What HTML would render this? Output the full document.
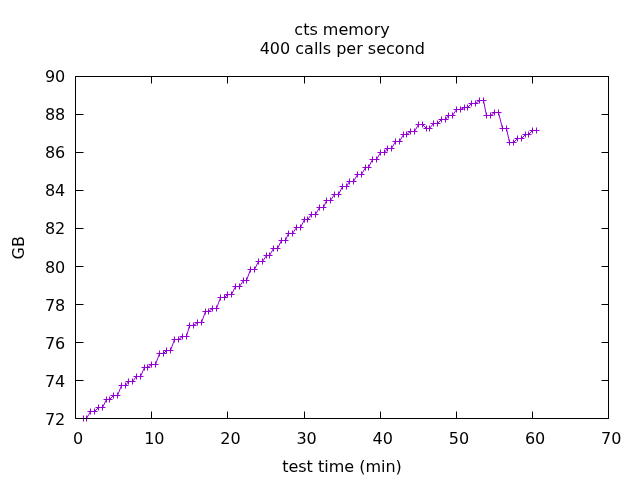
<!DOCTYPE html>
<html><head><meta charset="utf-8"><style>
html,body{margin:0;padding:0;background:#fff;width:640px;height:480px;overflow:hidden}
svg{display:block;will-change:transform}
</style></head><body>
<svg width="640" height="480" viewBox="0 0 640 480">
<rect x="0" y="0" width="640" height="480" fill="#fff"/>
<path d="M75.5,418.50h8M608.5,418.50h-7M75.5,380.50h8M608.5,380.50h-7M75.5,342.50h8M608.5,342.50h-7M75.5,304.50h8M608.5,304.50h-7M75.5,266.50h8M608.5,266.50h-7M75.5,228.50h8M608.5,228.50h-7M75.5,190.50h8M608.5,190.50h-7M75.5,152.50h8M608.5,152.50h-7M75.5,114.50h8M608.5,114.50h-7M75.5,76.50h8M608.5,76.50h-7M75.50,418.5v-7M75.50,76.5v7M151.50,418.5v-7M151.50,76.5v7M227.50,418.5v-7M227.50,76.5v7M304.50,418.5v-7M304.50,76.5v7M380.50,418.5v-7M380.50,76.5v7M456.50,418.5v-7M456.50,76.5v7M532.50,418.5v-7M532.50,76.5v7M608.50,418.5v-7M608.50,76.5v7" stroke="#000" stroke-width="1" fill="none"/>
<g font-family="DejaVu Sans, sans-serif" font-size="16" fill="#000"><text x="65.3" y="82" text-anchor="end">90</text><text x="65.3" y="120" text-anchor="end">88</text><text x="65.3" y="158" text-anchor="end">86</text><text x="65.3" y="196" text-anchor="end">84</text><text x="65.3" y="234" text-anchor="end">82</text><text x="65.3" y="273" text-anchor="end">80</text><text x="65.3" y="311" text-anchor="end">78</text><text x="65.3" y="349" text-anchor="end">76</text><text x="65.3" y="387" text-anchor="end">74</text><text x="65.3" y="425" text-anchor="end">72</text><text x="78.20" y="444" text-anchor="middle">0</text><text x="154.34" y="444" text-anchor="middle">10</text><text x="230.49" y="444" text-anchor="middle">20</text><text x="306.63" y="444" text-anchor="middle">30</text><text x="382.77" y="444" text-anchor="middle">40</text><text x="458.91" y="444" text-anchor="middle">50</text><text x="535.06" y="444" text-anchor="middle">60</text><text x="611.20" y="444" text-anchor="middle">70</text><text x="342" y="35" text-anchor="middle">cts memory</text><text x="342.3" y="54" text-anchor="middle">400 calls per second</text><text x="342" y="472" text-anchor="middle">test time (min)</text><text transform="translate(24.2,247.75) rotate(-90)" text-anchor="middle">GB</text></g>
<polyline points="83.50,418.50 86.50,418.50 90.50,411.50 94.50,411.50 98.50,407.50 102.50,407.50 106.50,399.50 109.50,399.50 113.50,395.50 117.50,395.50 121.50,385.50 125.50,385.50 128.50,381.50 132.50,381.50 136.50,376.50 140.50,376.50 144.50,367.50 147.50,367.50 151.50,364.50 155.50,364.50 159.50,353.50 163.50,353.50 166.50,350.50 170.50,350.50 174.50,339.50 178.50,339.50 182.50,336.50 186.50,336.50 189.50,325.50 193.50,325.50 197.50,322.50 201.50,322.50 205.50,311.50 208.50,311.50 212.50,308.50 216.50,308.50 220.50,297.50 224.50,297.50 227.50,294.50 231.50,294.50 235.50,286.50 239.50,286.50 243.50,280.50 246.50,280.50 250.50,269.50 254.50,269.50 258.50,261.50 262.50,261.50 266.50,255.50 269.50,255.50 273.50,248.50 277.50,248.50 281.50,240.50 285.50,240.50 288.50,233.50 292.50,233.50 296.50,227.50 300.50,227.50 304.50,219.50 307.50,219.50 311.50,214.50 315.50,214.50 319.50,207.50 323.50,207.50 326.50,200.50 330.50,200.50 334.50,194.50 338.50,194.50 342.50,186.50 346.50,186.50 349.50,181.50 353.50,181.50 357.50,174.50 361.50,174.50 365.50,167.50 368.50,167.50 372.50,159.50 376.50,159.50 380.50,152.50 384.50,152.50 387.50,148.50 391.50,148.50 395.50,141.50 399.50,141.50 403.50,134.50 406.50,134.50 410.50,131.50 414.50,131.50 418.50,124.50 422.50,124.50 426.50,128.50 429.50,128.50 433.50,123.50 437.50,123.50 441.50,119.50 445.50,119.50 448.50,115.50 452.50,115.50 456.50,109.50 460.50,109.50 464.50,107.50 467.50,107.50 471.50,103.50 475.50,103.50 479.50,100.50 483.50,100.50 486.50,115.50 490.50,115.50 494.50,112.50 498.50,112.50 502.50,128.50 506.50,128.50 509.50,142.50 513.50,142.50 517.50,138.50 521.50,138.50 525.50,134.50 528.50,134.50 532.50,130.50 536.50,130.50" fill="none" stroke="#9400d3" stroke-width="1"/>
<path d="M80.50,418.50h6M83.50,415.50v6M83.50,418.50h6M86.50,415.50v6M87.50,411.50h6M90.50,408.50v6M91.50,411.50h6M94.50,408.50v6M95.50,407.50h6M98.50,404.50v6M99.50,407.50h6M102.50,404.50v6M103.50,399.50h6M106.50,396.50v6M106.50,399.50h6M109.50,396.50v6M110.50,395.50h6M113.50,392.50v6M114.50,395.50h6M117.50,392.50v6M118.50,385.50h6M121.50,382.50v6M122.50,385.50h6M125.50,382.50v6M125.50,381.50h6M128.50,378.50v6M129.50,381.50h6M132.50,378.50v6M133.50,376.50h6M136.50,373.50v6M137.50,376.50h6M140.50,373.50v6M141.50,367.50h6M144.50,364.50v6M144.50,367.50h6M147.50,364.50v6M148.50,364.50h6M151.50,361.50v6M152.50,364.50h6M155.50,361.50v6M156.50,353.50h6M159.50,350.50v6M160.50,353.50h6M163.50,350.50v6M163.50,350.50h6M166.50,347.50v6M167.50,350.50h6M170.50,347.50v6M171.50,339.50h6M174.50,336.50v6M175.50,339.50h6M178.50,336.50v6M179.50,336.50h6M182.50,333.50v6M183.50,336.50h6M186.50,333.50v6M186.50,325.50h6M189.50,322.50v6M190.50,325.50h6M193.50,322.50v6M194.50,322.50h6M197.50,319.50v6M198.50,322.50h6M201.50,319.50v6M202.50,311.50h6M205.50,308.50v6M205.50,311.50h6M208.50,308.50v6M209.50,308.50h6M212.50,305.50v6M213.50,308.50h6M216.50,305.50v6M217.50,297.50h6M220.50,294.50v6M221.50,297.50h6M224.50,294.50v6M224.50,294.50h6M227.50,291.50v6M228.50,294.50h6M231.50,291.50v6M232.50,286.50h6M235.50,283.50v6M236.50,286.50h6M239.50,283.50v6M240.50,280.50h6M243.50,277.50v6M243.50,280.50h6M246.50,277.50v6M247.50,269.50h6M250.50,266.50v6M251.50,269.50h6M254.50,266.50v6M255.50,261.50h6M258.50,258.50v6M259.50,261.50h6M262.50,258.50v6M263.50,255.50h6M266.50,252.50v6M266.50,255.50h6M269.50,252.50v6M270.50,248.50h6M273.50,245.50v6M274.50,248.50h6M277.50,245.50v6M278.50,240.50h6M281.50,237.50v6M282.50,240.50h6M285.50,237.50v6M285.50,233.50h6M288.50,230.50v6M289.50,233.50h6M292.50,230.50v6M293.50,227.50h6M296.50,224.50v6M297.50,227.50h6M300.50,224.50v6M301.50,219.50h6M304.50,216.50v6M304.50,219.50h6M307.50,216.50v6M308.50,214.50h6M311.50,211.50v6M312.50,214.50h6M315.50,211.50v6M316.50,207.50h6M319.50,204.50v6M320.50,207.50h6M323.50,204.50v6M323.50,200.50h6M326.50,197.50v6M327.50,200.50h6M330.50,197.50v6M331.50,194.50h6M334.50,191.50v6M335.50,194.50h6M338.50,191.50v6M339.50,186.50h6M342.50,183.50v6M343.50,186.50h6M346.50,183.50v6M346.50,181.50h6M349.50,178.50v6M350.50,181.50h6M353.50,178.50v6M354.50,174.50h6M357.50,171.50v6M358.50,174.50h6M361.50,171.50v6M362.50,167.50h6M365.50,164.50v6M365.50,167.50h6M368.50,164.50v6M369.50,159.50h6M372.50,156.50v6M373.50,159.50h6M376.50,156.50v6M377.50,152.50h6M380.50,149.50v6M381.50,152.50h6M384.50,149.50v6M384.50,148.50h6M387.50,145.50v6M388.50,148.50h6M391.50,145.50v6M392.50,141.50h6M395.50,138.50v6M396.50,141.50h6M399.50,138.50v6M400.50,134.50h6M403.50,131.50v6M403.50,134.50h6M406.50,131.50v6M407.50,131.50h6M410.50,128.50v6M411.50,131.50h6M414.50,128.50v6M415.50,124.50h6M418.50,121.50v6M419.50,124.50h6M422.50,121.50v6M423.50,128.50h6M426.50,125.50v6M426.50,128.50h6M429.50,125.50v6M430.50,123.50h6M433.50,120.50v6M434.50,123.50h6M437.50,120.50v6M438.50,119.50h6M441.50,116.50v6M442.50,119.50h6M445.50,116.50v6M445.50,115.50h6M448.50,112.50v6M449.50,115.50h6M452.50,112.50v6M453.50,109.50h6M456.50,106.50v6M457.50,109.50h6M460.50,106.50v6M461.50,107.50h6M464.50,104.50v6M464.50,107.50h6M467.50,104.50v6M468.50,103.50h6M471.50,100.50v6M472.50,103.50h6M475.50,100.50v6M476.50,100.50h6M479.50,97.50v6M480.50,100.50h6M483.50,97.50v6M483.50,115.50h6M486.50,112.50v6M487.50,115.50h6M490.50,112.50v6M491.50,112.50h6M494.50,109.50v6M495.50,112.50h6M498.50,109.50v6M499.50,128.50h6M502.50,125.50v6M503.50,128.50h6M506.50,125.50v6M506.50,142.50h6M509.50,139.50v6M510.50,142.50h6M513.50,139.50v6M514.50,138.50h6M517.50,135.50v6M518.50,138.50h6M521.50,135.50v6M522.50,134.50h6M525.50,131.50v6M525.50,134.50h6M528.50,131.50v6M529.50,130.50h6M532.50,127.50v6M533.50,130.50h6M536.50,127.50v6" stroke="#9400d3" stroke-width="1" fill="none"/>
<path d="M75.5,76.5V418.5H608.5V76.5Z" stroke="#000" stroke-width="1" fill="none"/>
</svg>
</body></html>
